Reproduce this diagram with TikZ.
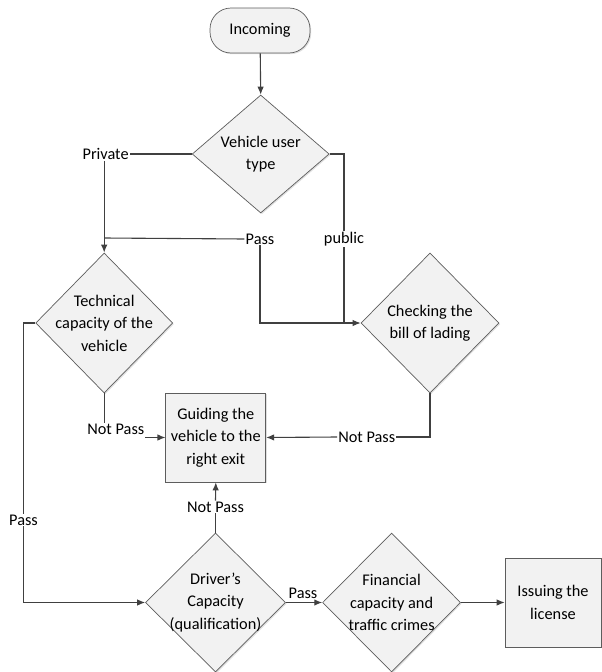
\documentclass[tikz,border=0pt]{standalone}
\usepackage{fontspec}
\setmainfont{Carlito}
\usetikzlibrary{arrows.meta,shapes.geometric,shadows}
\definecolor{ln}{HTML}{404040}
\definecolor{bx}{HTML}{F2F2F2}
\tikzset{
  base/.style={draw=ln!85, line width=0.7pt, fill=bx,
    drop shadow={shadow xshift=1.2pt,shadow yshift=-1.2pt,opacity=0.25}},
  dia/.style={base, diamond, inner sep=0pt, minimum width=#1},
  boxn/.style={base, rectangle, inner sep=0pt, align=center},
  term/.style={base, rectangle, rounded corners=21pt, inner sep=0pt, minimum width=100pt, minimum height=45pt},
  lbl/.style={fill=white, inner sep=1pt, text=black},
  conn/.style={draw=ln, line width=1.1pt},
  arr/.style={conn, -{Latex[length=8pt,width=6.5pt]}},
  inner/.style={align=center, text=black}
}
\begin{document}
\begin{tikzpicture}[x=1pt,y=-1pt, font=\fontsize{16.3}{22.5}\selectfont]
\useasboundingbox (0,0) rectangle (602,672);
% nodes
\node[term] (inc) at (260,30.5) {Incoming};
\node[dia=137pt, minimum height=118pt, label={[inner]center:Vehicle user\\type}] (vut) at (260.7,154) {};
\node[dia=137pt, minimum height=140pt, label={[inner]center:Technical\\capacity of the\\vehicle}] (tech) at (104.2,323) {};
\node[dia=138pt, minimum height=140pt, label={[inner]center:Checking the\\bill of lading}] (chk) at (430,323) {};
\node[boxn, minimum width=100pt, minimum height=89pt] (guide) at (215.8,437.5) {Guiding the\\vehicle to the\\right exit};
\node[dia=140pt, minimum height=139pt, label={[inner]center:Driver’s\\Capacity\\(qualification)}] (drv) at (215.5,602.5) {};
\node[dia=138pt, minimum height=139pt, label={[inner]center:Financial\\capacity and\\traffic crimes}] (fin) at (391.6,602.5) {};
\node[boxn, minimum width=96pt, minimum height=89pt] (iss) at (553,602.5) {Issuing the\\license};
% labels
\node[lbl] (priv) at (105.6,154) {Private};
\node[lbl] (pass1) at (260,239) {Pass};
\node[lbl] (pub) at (344,239) {public};
\node[lbl] (np1) at (115.8,429) {Not Pass};
\node[lbl] (np2) at (366.7,437) {Not Pass};
\node[lbl] (pass2) at (23.5,520) {Pass};
\node[lbl] (np3) at (215.5,507) {Not Pass};
\coordinate (j1) at (104.2,238);
% connectors
\draw[arr] (inc) -- (vut.north);
\draw[conn] (vut.west) -- (priv.east);
\draw[arr] (priv.south -| tech.north) -- (tech.north);
\draw[conn] (j1) -- (pass1.west);
\draw[arr] (pass1.south) |- (chk.west);
\draw[conn] (vut.east) -| (pub.north);
\draw[conn] (pub.south) -- (pub.south |- chk.west);
\draw[conn] (tech.west) -| (pass2.north);
\draw[arr] (pass2.south) |- (drv.west);
\draw[conn] (tech.south) -- (tech.south |- np1.north);
\draw[arr] (np1.east |- guide.west) -- (guide.west);
\draw[conn] (chk.south) |- (np2.east);
\draw[arr] (np2.west) -- (guide.east);
\draw[conn] (drv.north) -- (np3.south);
\draw[arr] (np3.north) -- (guide.south);
\draw[arr] (drv.east) -- (fin.west);
\node[lbl] (pass3) at (303,593) {Pass};
\draw[arr] (fin.east) -- (iss.west);
\end{tikzpicture}
\end{document}
